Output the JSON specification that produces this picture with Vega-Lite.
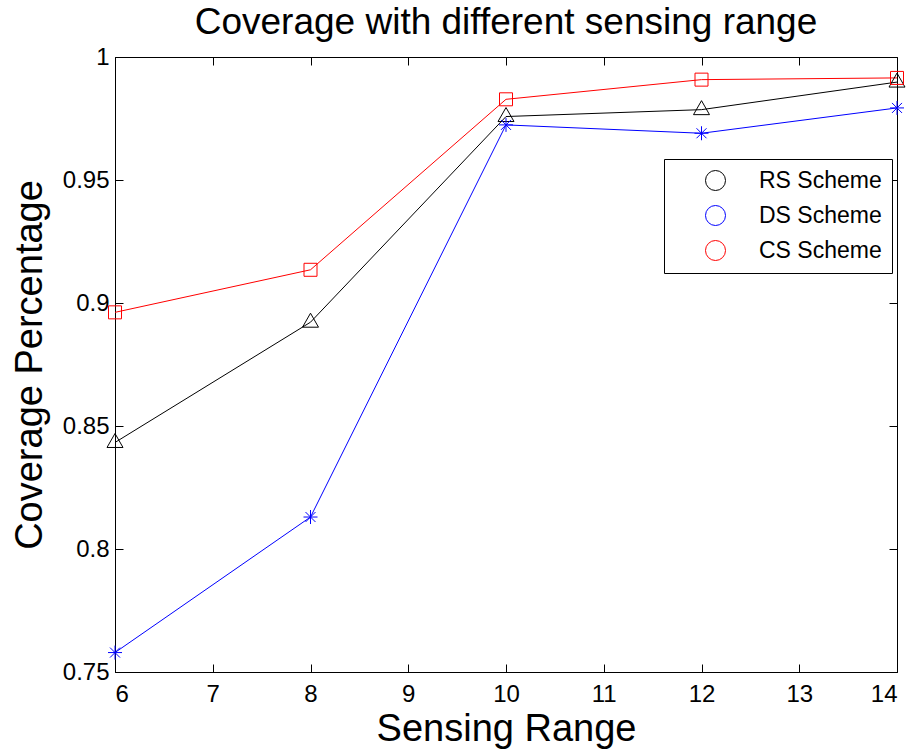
{
  "$schema": "https://vega.github.io/schema/vega-lite/v6.json",
  "autosize": "none",
  "width": 782,
  "height": 615,
  "padding": {"left": 115, "top": 57, "right": 17, "bottom": 79},
  "background": "white",
  "title": {"text": "Coverage with different sensing range", "font": "Liberation Sans", "fontSize": 37, "fontWeight": "normal", "color": "black", "anchor": "middle", "offset": 3},
  "data": {"values": [
    {"range": 6, "coverage": 0.8433, "scheme": "RS Scheme"},
    {"range": 8, "coverage": 0.8922, "scheme": "RS Scheme"},
    {"range": 10, "coverage": 0.9758, "scheme": "RS Scheme"},
    {"range": 12, "coverage": 0.9786, "scheme": "RS Scheme"},
    {"range": 14, "coverage": 0.9898, "scheme": "RS Scheme"},
    {"range": 6, "coverage": 0.7579, "scheme": "DS Scheme"},
    {"range": 8, "coverage": 0.8130, "scheme": "DS Scheme"},
    {"range": 10, "coverage": 0.9724, "scheme": "DS Scheme"},
    {"range": 12, "coverage": 0.9690, "scheme": "DS Scheme"},
    {"range": 14, "coverage": 0.9793, "scheme": "DS Scheme"},
    {"range": 6, "coverage": 0.8962, "scheme": "CS Scheme"},
    {"range": 8, "coverage": 0.9135, "scheme": "CS Scheme"},
    {"range": 10, "coverage": 0.9828, "scheme": "CS Scheme"},
    {"range": 12, "coverage": 0.9908, "scheme": "CS Scheme"},
    {"range": 14, "coverage": 0.9915, "scheme": "CS Scheme"}
  ]},
  "layer": [
    {
      "mark": {"type": "line", "strokeWidth": 1},
      "encoding": {
        "x": {"field": "range", "type": "quantitative", "scale": {"domain": [6, 14], "nice": false, "zero": false},
          "axis": {"orient": "bottom", "title": "Sensing Range", "values": [6, 7, 8, 9, 10, 11, 12, 13, 14], "format": "d", "grid": false, "tickSize": -8, "labelPadding": 18, "titlePadding": 4}},
        "y": {"field": "coverage", "type": "quantitative", "scale": {"domain": [0.75, 1], "nice": false, "zero": false},
          "axis": {"orient": "left", "title": "Coverage Percentage", "values": [0.75, 0.8, 0.85, 0.9, 0.95, 1], "format": "~g", "grid": false, "tickSize": -8, "labelPadding": 14, "titlePadding": 13}},
        "color": {"field": "scheme", "type": "nominal", "scale": {"domain": ["RS Scheme", "DS Scheme", "CS Scheme"], "range": ["#000000", "#0000ff", "#ff0000"]}},
        "detail": {"field": "scheme"}
      }
    },
    {
      "mark": {"type": "point", "filled": false, "strokeWidth": 1, "size": 400, "opacity": 1},
      "encoding": {
        "x": {"field": "range", "type": "quantitative", "scale": {"domain": [6, 14], "nice": false, "zero": false},
          "axis": {"orient": "top", "title": null, "labels": false, "domain": false, "values": [6, 7, 8, 9, 10, 11, 12, 13, 14], "grid": false, "tickSize": -8}},
        "y": {"field": "coverage", "type": "quantitative", "scale": {"domain": [0.75, 1], "nice": false, "zero": false},
          "axis": {"orient": "right", "title": null, "labels": false, "domain": false, "values": [0.75, 0.8, 0.85, 0.9, 0.95, 1], "grid": false, "tickSize": -8}},
        "color": {"field": "scheme", "type": "nominal", "scale": {"domain": ["RS Scheme", "DS Scheme", "CS Scheme"], "range": ["#000000", "#0000ff", "#ff0000"]},
          "legend": {
            "title": null, "orient": "none", "legendX": 549, "legendY": 102,
            "strokeColor": "black", "fillColor": "white", "padding": 10, "cornerRadius": 0,
            "labelFontSize": 23, "labelFont": "Liberation Sans", "labelColor": "black",
            "symbolSize": 400, "symbolStrokeWidth": 1, "rowPadding": 10, "symbolOffset": 30, "labelOffset": 32,
            "encode": {"symbols": {
              "fill": {"value": "transparent"},
              "shape": {"condition": [
                {"test": "datum.value === 'RS Scheme'", "value": "M-3.6,0H3.6M0,-0.9L0.8,0.5L-0.8,0.5Z"},
                {"test": "datum.value === 'DS Scheme'", "value": "M-3.6,0H3.6M0,-0.7V0.7M-0.5,-0.5L0.5,0.5M-0.5,0.5L0.5,-0.5"}
              ], "value": "M-3.6,0H3.6M-0.65,-0.65H0.65V0.65H-0.65Z"}
            }}
          }},
        "shape": {"field": "scheme", "type": "nominal", "scale": {"domain": ["CS Scheme", "DS Scheme", "RS Scheme"], "range": ["M-0.65,-0.65H0.65V0.65H-0.65Z", "M0,-0.7V0.7M-0.7,0H0.7M-0.5,-0.5L0.5,0.5M-0.5,0.5L0.5,-0.5", "M0,-0.9L0.8,0.5L-0.8,0.5Z"]}, "legend": null}
      }
    }
  ],
  "resolve": {"axis": {"x": "independent", "y": "independent"}},
  "config": {
    "view": {"stroke": "black", "strokeWidth": 1},
    "axis": {"labelFont": "Liberation Sans", "labelFontSize": 24, "labelColor": "black", "titleFont": "Liberation Sans", "titleFontSize": 38, "titleFontWeight": "normal", "titleColor": "black", "domainColor": "black", "tickColor": "black", "domainWidth": 1, "tickWidth": 1}
  }
}
